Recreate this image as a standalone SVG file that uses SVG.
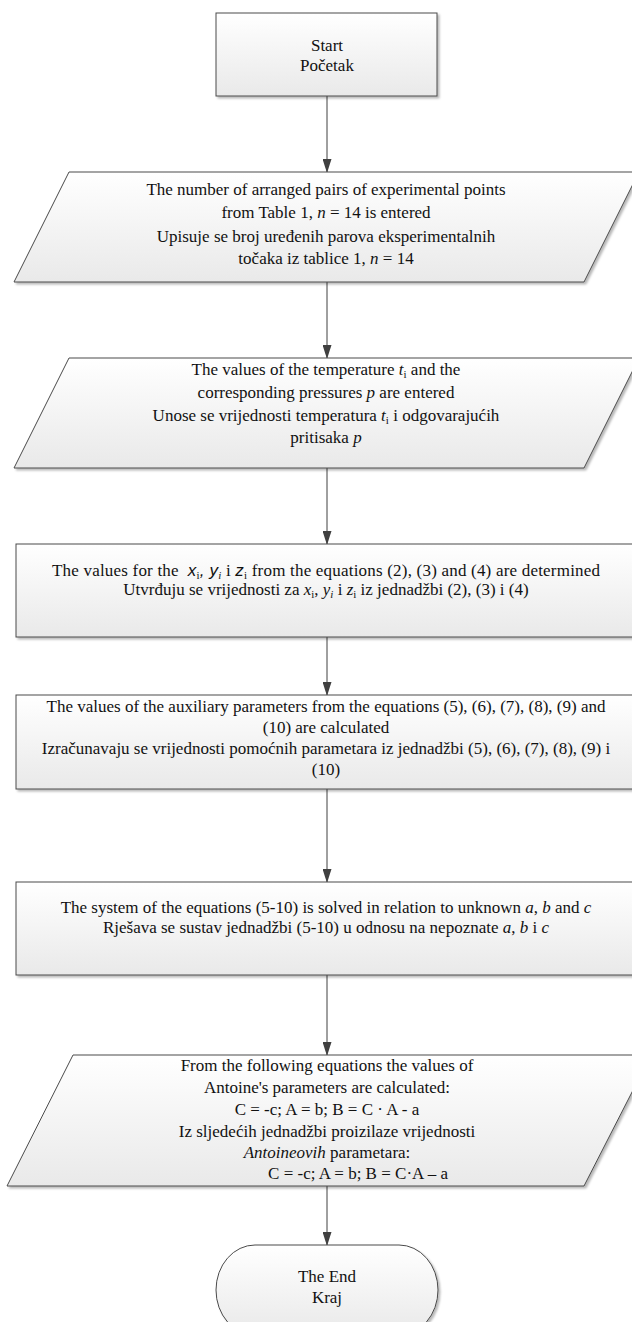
<svg xmlns="http://www.w3.org/2000/svg" width="632" height="1322" viewBox="0 0 632 1322">
<defs>
<linearGradient id="g" x1="0" y1="0" x2="0" y2="1">
<stop offset="0" stop-color="#ffffff"/>
<stop offset="1" stop-color="#e9e9e9"/>
</linearGradient>
<filter id="sh" x="-5%" y="-5%" width="115%" height="120%">
<feDropShadow dx="2" dy="2" stdDeviation="1.2" flood-color="#000" flood-opacity="0.28"/>
</filter>
<marker id="arr" markerWidth="14" markerHeight="9" refX="13" refY="4.5" orient="auto" markerUnits="userSpaceOnUse">
<path d="M0,0 L14,4.5 L0,9 Z" fill="#404040"/>
</marker>
</defs>
<style>
.s{fill:url(#g);stroke:#4a4a4a;stroke-width:1;filter:url(#sh)}
.t{font-family:"Liberation Serif","Times New Roman",serif;font-size:17px;fill:#111;text-anchor:middle}
.i{font-style:italic}
.sub{font-size:11px}
.sans{font-family:"Liberation Sans",Arial,sans-serif;font-style:italic;font-size:17px}
.c{stroke:#404040;stroke-width:1;fill:none}
</style>

<g id="connectors">
<line class="c" x1="327" y1="96" x2="327" y2="172" marker-end="url(#arr)"/>
<line class="c" x1="327" y1="282" x2="327" y2="358" marker-end="url(#arr)"/>
<line class="c" x1="327" y1="468" x2="327" y2="544" marker-end="url(#arr)"/>
<line class="c" x1="327" y1="637" x2="327" y2="695" marker-end="url(#arr)"/>
<line class="c" x1="327" y1="789" x2="327" y2="882" marker-end="url(#arr)"/>
<line class="c" x1="327" y1="975" x2="327" y2="1055" marker-end="url(#arr)"/>
<line class="c" x1="327" y1="1186" x2="327" y2="1245" marker-end="url(#arr)"/>
</g>

<g id="start">
<rect class="s" x="216" y="13" width="221" height="83"/>
<text class="t" x="327" y="51">Start</text>
<text class="t" x="327" y="71">Početak</text>
</g>

<g id="input1">
<polygon class="s" points="69,172 639,172 584,282 14,282"/>
<text class="t" x="326" y="195">The number of arranged pairs of experimental points</text>
<text class="t" x="326" y="218">from Table 1, <tspan class="i">n</tspan> = 14 is entered</text>
<text class="t" x="326" y="242">Upisuje se broj uređenih parova eksperimentalnih</text>
<text class="t" x="326" y="264">točaka iz tablice 1, <tspan class="i">n</tspan> = 14</text>
</g>

<g id="input2">
<polygon class="s" points="69,358 639,358 584,468 14,468"/>
<text class="t" x="326" y="375">The values of the temperature <tspan class="i">t</tspan><tspan class="sub" dy="3">i</tspan><tspan dy="-3"> and the</tspan></text>
<text class="t" x="326" y="398">corresponding pressures <tspan class="i">p</tspan> are entered</text>
<text class="t" x="326" y="421">Unose se vrijednosti temperatura <tspan class="i">t</tspan><tspan class="sub" dy="3">i</tspan><tspan dy="-3"> i odgovarajućih</tspan></text>
<text class="t" x="326" y="443">pritisaka <tspan class="i">p</tspan></text>
</g>

<g id="process1">
<rect class="s" x="16" y="544" width="622" height="93"/>
<text class="t" x="326" y="576" xml:space="preserve" textLength="548" lengthAdjust="spacing">The values for the  <tspan class="sans">x</tspan><tspan class="sub" dy="3">i</tspan><tspan dy="-3" class="sans">, y</tspan><tspan class="sub i" dy="3">i</tspan><tspan dy="-3"> i </tspan><tspan class="sans">z</tspan><tspan class="sub" dy="3">i</tspan><tspan dy="-3"> from the equations (2), (3) and (4) are determined</tspan></text>
<text class="t" x="326" y="595">Utvrđuju se vrijednosti za <tspan class="i">x</tspan><tspan class="sub" dy="3">i</tspan><tspan dy="-3">, </tspan><tspan class="i">y</tspan><tspan class="sub i" dy="3">i</tspan><tspan dy="-3"> i </tspan><tspan class="i">z</tspan><tspan class="sub" dy="3">i</tspan><tspan dy="-3"> iz jednadžbi (2), (3) i (4)</tspan></text>
</g>

<g id="process2">
<rect class="s" x="16" y="695" width="622" height="94"/>
<text class="t" x="326" y="712">The values of the auxiliary parameters from the equations (5), (6), (7), (8), (9) and</text>
<text class="t" x="326" y="733">(10) are calculated</text>
<text class="t" x="326" y="754">Izračunavaju se vrijednosti pomoćnih parametara iz jednadžbi (5), (6), (7), (8), (9) i</text>
<text class="t" x="326" y="775">(10)</text>
</g>

<g id="process3">
<rect class="s" x="16" y="882" width="622" height="93"/>
<text class="t" x="326" y="913">The system of the equations (5-10) is solved in relation to unknown <tspan class="i">a</tspan>, <tspan class="i">b</tspan> and <tspan class="i">c</tspan></text>
<text class="t" x="326" y="933">Rješava se sustav jednadžbi (5-10) u odnosu na nepoznate <tspan class="i">a</tspan>, <tspan class="i">b</tspan> i <tspan class="i">c</tspan></text>
</g>

<g id="output">
<polygon class="s" points="73,1055 651,1055 584,1186 7,1186"/>
<text class="t" x="327" y="1071">From the following equations the values of</text>
<text class="t" x="327" y="1093">Antoine's parameters are calculated:</text>
<text class="t" x="327" y="1115">C = -c; A = b; B = C · A - a</text>
<text class="t" x="327" y="1137">Iz sljedećih jednadžbi proizilaze vrijednosti</text>
<text class="t" x="327" y="1158"><tspan class="i">Antoineovih</tspan> parametara:</text>
<text class="t" x="358" y="1179">C = -c; A = b; B = C·A – a</text>
</g>

<g id="end">
<rect class="s" x="216" y="1245" width="222" height="90" rx="39" ry="45"/>
<text class="t" x="327" y="1282">The End</text>
<text class="t" x="327" y="1303">Kraj</text>
</g>
</svg>
